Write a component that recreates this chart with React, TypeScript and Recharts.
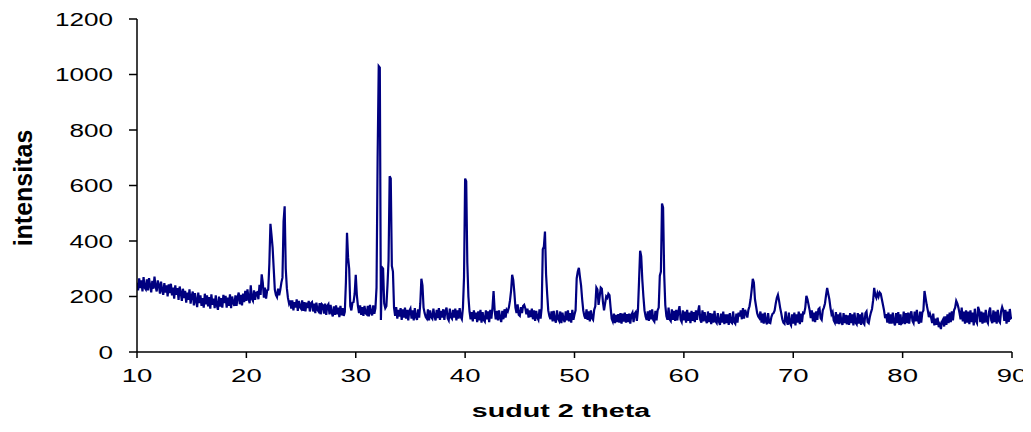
import React from "react";
import { LineChart, Line, XAxis, YAxis } from "recharts";

// XRD scan: 2θ from 10° to 90° in 0.1° steps
const startAngle = 10;
const stepAngle = 0.1;

const intensity: number[] = [
  250,222,265,230,258,218,270,232,226,262,
  222,266,240,215,256,228,272,236,218,258,
  242,210,254,222,206,248,214,240,200,244,
  212,246,204,232,192,240,206,230,188,236,
  214,184,228,194,220,178,214,188,226,174,
  202,218,168,212,184,162,214,176,204,166,
  194,160,210,172,204,164,198,156,208,170,
  192,158,204,168,152,200,164,194,160,206,
  176,202,160,196,166,208,158,200,178,166,
  204,166,198,214,172,206,168,210,180,220,
  184,226,192,176,240,192,184,222,188,214,
  216,190,242,206,280,250,196,232,192,222,
  225,318,462,420,375,300,225,206,198,228,
  204,224,250,268,470,525,300,230,195,175,
  186,156,186,150,180,160,190,148,184,162,
  156,186,148,180,146,178,158,184,146,176,
  180,146,174,140,178,152,146,176,136,172,
  168,138,174,134,166,172,136,170,142,128,
  164,134,168,136,160,126,166,132,158,130,
  145,250,430,340,300,165,150,178,180,210,
  278,205,165,140,168,134,162,130,166,140,
  136,166,128,170,142,132,168,138,158,232,
  700,1030,1025,115,305,300,175,158,165,240,
  330,633,625,310,290,160,130,162,120,152,
  128,158,116,154,124,160,120,152,114,148,
  156,120,150,114,158,126,116,154,124,175,
  264,240,160,140,126,120,154,114,150,126,
  120,156,128,114,152,122,158,116,148,124,
  154,116,148,160,122,114,156,126,120,152,
  124,156,114,150,120,158,126,118,160,270,
  625,615,322,200,146,118,144,110,150,120,
  142,108,146,114,152,106,144,116,110,150,
  118,146,108,152,120,160,220,150,118,148,
  114,150,122,108,148,118,154,124,152,146,
  160,185,220,278,260,215,160,140,172,134,
  130,162,140,166,170,158,136,156,124,150,
  126,156,118,150,112,148,124,116,154,120,
  160,370,380,434,280,210,150,130,118,146,
  110,148,116,106,150,120,112,146,104,142,
  118,108,146,114,150,110,140,106,152,116,
  135,150,265,290,303,270,240,190,150,130,
  120,154,116,146,110,150,122,116,152,165,
  232,225,170,200,232,228,180,150,175,200,
  195,210,205,160,120,110,138,104,134,108,
  136,106,140,102,138,110,142,106,136,108,
  138,102,134,142,108,138,144,112,150,255,
  365,345,260,200,150,128,116,146,112,150,
  118,154,116,110,148,114,150,160,275,290,
  535,520,280,170,130,116,160,118,112,154,
  116,148,112,152,114,146,165,116,108,150,
  114,146,106,152,112,142,104,148,112,144,
  108,150,116,146,168,116,106,150,110,144,
  116,104,146,108,140,100,138,106,148,110,
  104,140,110,98,138,106,146,100,136,104,
  136,98,140,108,104,146,108,102,138,106,
  142,128,150,118,158,120,152,140,124,152,
  165,190,225,264,250,190,165,140,128,122,
  146,106,138,102,142,110,100,140,106,104,
  126,137,140,150,175,195,206,185,160,140,
  118,106,102,146,112,98,142,104,96,136,
  102,142,96,136,106,146,100,138,108,142,
  140,160,202,190,170,150,122,150,110,142,
  108,146,116,154,158,122,116,150,160,175,
  205,231,210,190,160,136,144,114,106,144,
  102,136,100,142,108,98,140,104,134,100,
  132,98,140,104,136,96,142,106,100,140,
  102,136,98,142,106,100,140,146,108,104,
  126,142,155,185,231,205,195,212,200,215,
  210,190,170,150,122,136,106,142,102,136,
  102,142,108,96,140,104,144,98,136,102,
  106,146,100,140,104,142,102,136,146,112,
  104,146,110,152,114,102,146,106,142,150,
  220,195,170,150,126,138,124,104,138,96,
  120,98,124,90,100,83,110,118,92,128,
  98,136,104,142,108,146,114,150,160,184,
  175,160,140,118,160,110,146,102,150,106,
  146,100,150,108,142,96,156,112,104,163,
  150,108,146,102,142,106,152,112,104,144,
  160,114,104,150,108,146,102,152,112,106,
  146,162,150,112,152,102,146,108,155,122,
  125,
];

const twoTheta: number[] = intensity.map((_, i) => Math.round((startAngle + i * stepAngle) * 10) / 10);

const xTicks = [10, 20, 30, 40, 50, 60, 70, 80, 90];
const yTicks = [0, 200, 400, 600, 800, 1000, 1200];

const xTitle = "sudut 2 theta";
const yTitle = "intensitas";

const data = twoTheta.map((t, i) => ({ theta: t, value: intensity[i] }));

const FONT = "'Liberation Sans', Arial, sans-serif";

const XTick = (props: any) => {
  const { x, y, payload } = props;
  return (
    <g transform={`translate(${x},${y})`}>
      <text
        transform="scale(1.45,1)"
        x={0}
        y={24}
        textAnchor="middle"
        fontFamily={FONT}
        fontSize={19}
        fill="#000"
      >
        {payload.value}
      </text>
    </g>
  );
};

const YTick = (props: any) => {
  const { x, y, payload } = props;
  return (
    <g transform={`translate(${x},${y})`}>
      <text
        transform="scale(1.45,1)"
        x={0}
        y={6.5}
        textAnchor="end"
        fontFamily={FONT}
        fontSize={18}
        fill="#000"
      >
        {payload.value}
      </text>
    </g>
  );
};

const XTitle = () => (
  <g transform="translate(553,409)">
    <text
      transform="scale(1.55,1)"
      textAnchor="middle"
      fontFamily={FONT}
      fontWeight="bold"
      fontSize={18.5}
      fill="#000"
    >
      {xTitle}
    </text>
  </g>
);

const YTitle = () => (
  <g transform="translate(24,180) rotate(-90)">
    <text
      textAnchor="middle"
      fontFamily={FONT}
      fontWeight="bold"
      fontSize={25}
      fill="#000"
    >
      {yTitle}
    </text>
  </g>
);

export default function App() {
  return (
    <div style={{ width: 1023, height: 424 }}>
      <LineChart
        width={1023}
        height={424}
        data={data}
        margin={{ top: 11, right: 19, left: 0, bottom: 0 }}
      >
        <XAxis
          dataKey="theta"
          type="number"
          domain={[10, 90]}
          ticks={xTicks}
          allowDataOverflow
          height={80}
          stroke="#000"
          strokeWidth={1.5}
          tickSize={6}
          tickMargin={0}
          tick={<XTick />}
          label={{ content: () => <XTitle /> }}
        />
        <YAxis
          dataKey="value"
          type="number"
          domain={[0, 1200]}
          ticks={yTicks}
          allowDataOverflow
          width={129}
          stroke="#000"
          strokeWidth={1.5}
          tickSize={8}
          tickMargin={16}
          tick={<YTick />}
          label={{ content: () => <YTitle /> }}
        />
        <Line
          type="linear"
          dataKey="value"
          stroke="#000080"
          strokeWidth={2.2}
          dot={false}
          isAnimationActive={false}
        />
      </LineChart>
    </div>
  );
}
